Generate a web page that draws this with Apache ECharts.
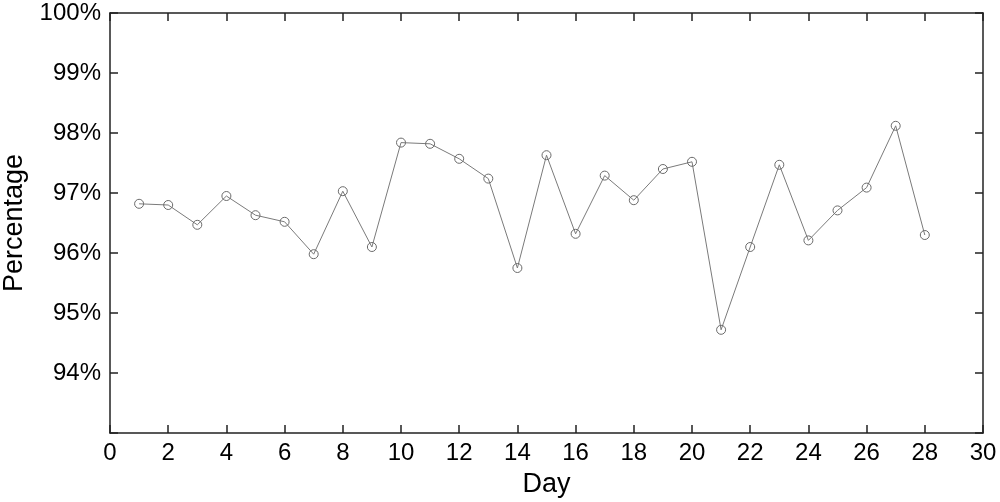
<!DOCTYPE html>
<html>
<head>
<meta charset="utf-8">
<script src="https://cdn.jsdelivr.net/npm/echarts@6/dist/echarts.min.js"></script>
<style>html,body{margin:0;padding:0;background:#fff}#c{width:1000px;height:502px}</style>
</head>
<body>
<div id="c"></div>
<script>
const days = [1,2,3,4,5,6,7,8,9,10,11,12,13,14,15,16,17,18,19,20,21,22,23,24,25,26,27,28];
const percentage = [96.82,96.80,96.47,96.95,96.63,96.52,95.98,97.03,96.10,97.84,97.82,97.57,97.24,95.75,97.63,96.32,97.29,96.88,97.40,97.52,94.72,96.10,97.47,96.21,96.71,97.09,98.12,96.30];
const yTicks = [94,95,96,97,98,99,100];

const chart = echarts.init(document.getElementById('c'), null, {renderer:'canvas'});
const font = 'Liberation Sans, Arial, Helvetica, sans-serif';
const axisCol = '#222';
const common = {
  axisLine:{show:true,onZero:false,lineStyle:{color:axisCol,width:1.5}},
  axisTick:{show:true,inside:true,length:8,lineStyle:{color:axisCol,width:1.5}},
  splitLine:{show:false}
};
chart.setOption({
  animation:false,
  grid:{left:110,right:17,top:13,bottom:69,containLabel:false,outerBoundsMode:'none'},
  xAxis:[
    Object.assign({type:'value',min:0,max:30,interval:2,position:'bottom',
      name:'Day',nameLocation:'middle',nameGap:38,
      nameTextStyle:{fontFamily:font,fontSize:27,color:'#000'},
      axisLabel:{fontFamily:font,fontSize:24,color:'#000',margin:8}},common),
    Object.assign({type:'value',min:0,max:30,interval:2,position:'top',
      axisLabel:{show:false}},common)
  ],
  yAxis:[
    Object.assign({type:'value',min:93,max:100,interval:1,position:'left',
      name:'Percentage',nameLocation:'middle',nameGap:82,
      nameTextStyle:{fontFamily:font,fontSize:27,color:'#000'},
      axisLabel:{fontFamily:font,fontSize:24,color:'#000',margin:9,
        formatter:v=>yTicks.indexOf(v)>=0?v+'%':''}},common),
    Object.assign({type:'value',min:93,max:100,interval:1,position:'right',
      axisLabel:{show:false}},common)
  ],
  series:[{
    type:'line',
    xAxisIndex:0,yAxisIndex:0,
    data:days.map((d,i)=>[d,percentage[i]]),
    symbol:'circle',symbolSize:9,
    lineStyle:{color:'#7a7a7a',width:1},
    itemStyle:{color:'rgba(255,255,255,0)',borderColor:'#6a6a6a',borderWidth:1}
  }]
});
</script>
</body>
</html>
